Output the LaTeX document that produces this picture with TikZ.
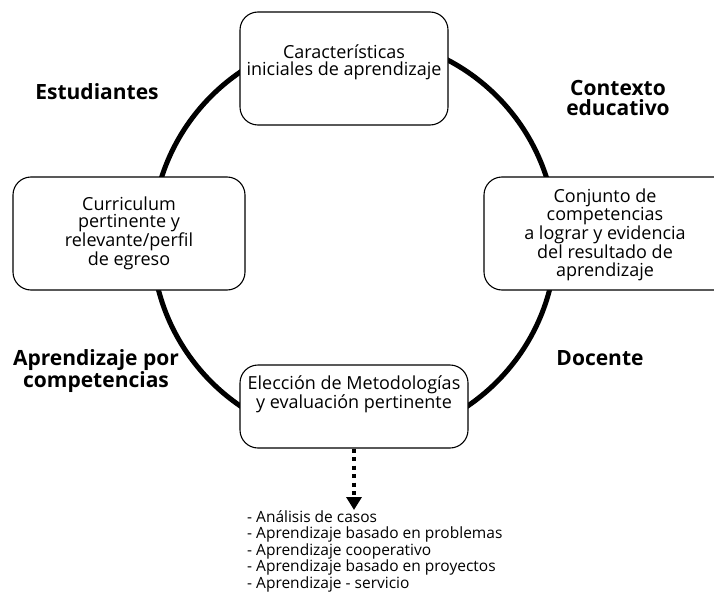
\documentclass[tikz,border=0pt]{standalone}
\usepackage{fontspec}
\setmainfont{Open Sans}
\usetikzlibrary{arrows.meta,positioning}

\begin{document}
\begin{tikzpicture}[x=1pt,y=-1pt,line cap=round,
    every node/.style={font=\fontsize{18}{17.5}\selectfont},
    caja/.style={draw,rounded corners=18pt,line width=1.1pt,fill=white,inner sep=0pt},
    texto/.style={align=center,inner sep=1pt},
    eje/.style={font=\bfseries\fontsize{21}{20}\selectfont,align=center}]
  \useasboundingbox (0,0) rectangle (714,615);
  \clip (0,0) rectangle (714,615);
  % ciclo
  \coordinate (c) at (354,239);
  \draw[line width=5pt] (c) circle[radius=202];
  % cajas
  \node[caja,minimum width=208pt,minimum height=113pt] (arriba) at (344,68.5) {};
  \node[caja,minimum width=232pt,minimum height=113pt] (izq) at (129,233.5) {};
  \node[caja,minimum width=250pt,minimum height=113pt] (der) at (609,233.5) {};
  \node[caja,minimum width=228pt,minimum height=83pt] (abajo) at (354,406.5) {};
  \node[texto] (t1) at ([yshift=6pt]arriba.center) {Características\\iniciales de aprendizaje};
  \node[texto] (t2) at (izq.center) {Curriculum\\pertinente y\\relevante/perfil\\de egreso};
  \node[texto] (t3) at ([xshift=-4pt,yshift=-1pt]der.center) {Conjunto de\\competencias\\a lograr y evidencia\\del resultado de\\aprendizaje};
  \node[texto] (t4) at ([yshift=12pt]abajo.center) {Elección de Metodologías\\y evaluación pertinente};
  % ejes
  \node[eje] (e1) at (97,92) {Estudiantes};
  \node[eje] (e2) at (618,98) {Contexto\\educativo};
  \node[eje] (e3) at (96,371) {Aprendizaje por\\competencias};
  \node[eje] (e4) at (600,358) {Docente};
  % metodologias
  \node[anchor=north west,align=left,inner sep=0pt,font=\fontsize{15.5}{16.5}\selectfont] (lista) at (247,510)
    {- Análisis de casos\\- Aprendizaje basado en problemas\\- Aprendizaje cooperativo\\- Aprendizaje basado en proyectos\\- Aprendizaje - servicio};
  \draw[line width=4pt,line cap=butt,dash pattern=on 4pt off 4.5pt,-{Triangle[length=13pt,width=15pt]}]
    (abajo.south) -- (abajo.south |- lista.north);
\end{tikzpicture}
\end{document}
